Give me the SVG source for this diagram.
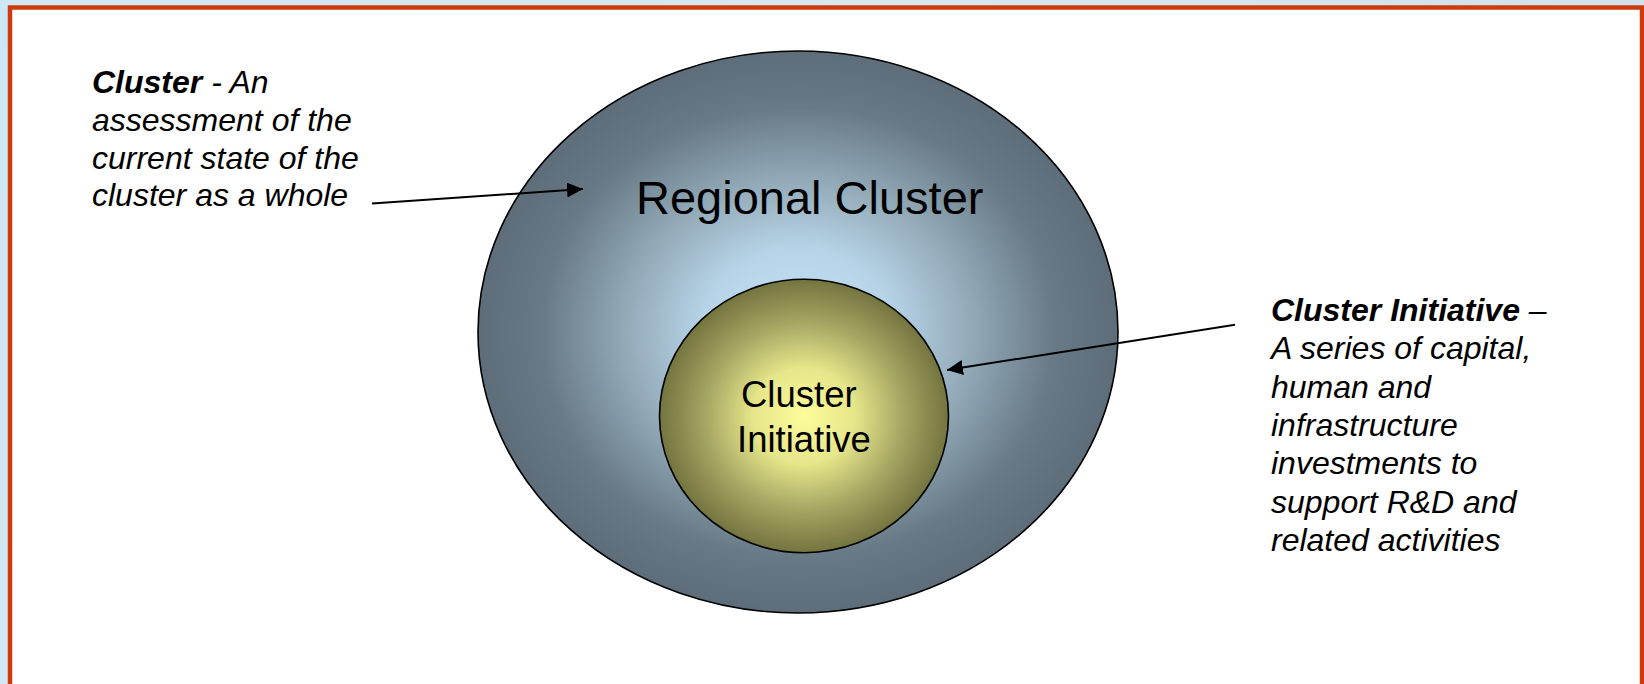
<svg xmlns="http://www.w3.org/2000/svg" width="1644" height="684" viewBox="0 0 1644 684">
  <style>
    .note { font-family: "Liberation Sans", Arial, sans-serif; font-size: 32px; font-style: italic; fill: #000; }
    .note .lead { font-weight: bold; }
    .label { font-family: "Liberation Sans", Arial, sans-serif; fill: #000; }
    .ring { stroke: #000; stroke-width: 1.6; }
    .conn { stroke: #000; stroke-width: 2; fill: none; marker-end: url(#arrowhead); }
  </style>
  <defs>
    <linearGradient id="pageBg" x1="0" y1="0" x2="1" y2="0.3">
      <stop offset="0" stop-color="#cde8f4"/>
      <stop offset="0.5" stop-color="#d6e8f2"/>
      <stop offset="1" stop-color="#cfe0ee"/>
    </linearGradient>
    <radialGradient id="regionFill" cx="798" cy="332" r="320" gradientUnits="userSpaceOnUse" gradientTransform="translate(798 332) scale(1 0.878) translate(-798 -332)">
      <stop offset="0" stop-color="#c9e5f8"/>
      <stop offset="0.3" stop-color="#b6d3e7"/>
      <stop offset="0.55" stop-color="#91a8b6"/>
      <stop offset="0.8" stop-color="#687a86"/>
      <stop offset="1" stop-color="#5d6d79"/>
    </radialGradient>
    <radialGradient id="initiativeFill" cx="0.5" cy="0.5" r="0.5">
      <stop offset="0" stop-color="#fdfd9c"/>
      <stop offset="0.35" stop-color="#e6e68a"/>
      <stop offset="0.7" stop-color="#a3a362"/>
      <stop offset="1" stop-color="#74743f"/>
    </radialGradient>
    <marker id="arrowhead" viewBox="0 0 16 15" refX="16" refY="7.5" markerWidth="16" markerHeight="15" markerUnits="userSpaceOnUse" orient="auto">
      <path d="M0,0 L16,7.5 L0,15 Z" fill="#000"/>
    </marker>
  </defs>

  <!-- page backdrop and framed slide area -->
  <rect x="0" y="0" width="1644" height="684" fill="url(#pageBg)"/>
  <rect x="10" y="7.5" width="1632" height="720" fill="#fff" stroke="#cf3a0c" stroke-width="4.5"/>

  <g id="regional-cluster">
    <ellipse class="ring" cx="798" cy="332" rx="320" ry="281" fill="url(#regionFill)"/>
    <text class="label" x="636" y="214" font-size="47">Regional Cluster</text>
  </g>

  <g id="cluster-initiative">
    <ellipse class="ring" cx="804" cy="416" rx="144.5" ry="136.7" fill="url(#initiativeFill)"/>
    <text class="label" font-size="36.5">
      <tspan x="741" y="407">Cluster</tspan>
      <tspan x="737" y="452">Initiative</tspan>
    </text>
  </g>

  <g id="cluster-note">
    <text class="note">
      <tspan x="92" y="93"><tspan class="lead">Cluster</tspan> - An</tspan>
      <tspan x="92" y="131">assessment of the</tspan>
      <tspan x="92" y="168.5">current state of the</tspan>
      <tspan x="92" y="206">cluster as a whole</tspan>
    </text>
  </g>

  <g id="initiative-note">
    <text class="note">
      <tspan x="1271" y="321"><tspan class="lead">Cluster Initiative</tspan> –</tspan>
      <tspan x="1271" y="359.3">A series of capital,</tspan>
      <tspan x="1271" y="397.6">human and</tspan>
      <tspan x="1271" y="435.9">infrastructure</tspan>
      <tspan x="1271" y="474.2">investments to</tspan>
      <tspan x="1271" y="512.5">support R&amp;D and</tspan>
      <tspan x="1271" y="550.8">related activities</tspan>
    </text>
  </g>

  <g id="connectors">
    <line class="conn" x1="372" y1="203.5" x2="583" y2="189"/>
    <line class="conn" x1="1235" y1="324.7" x2="947" y2="370"/>
  </g>
</svg>
